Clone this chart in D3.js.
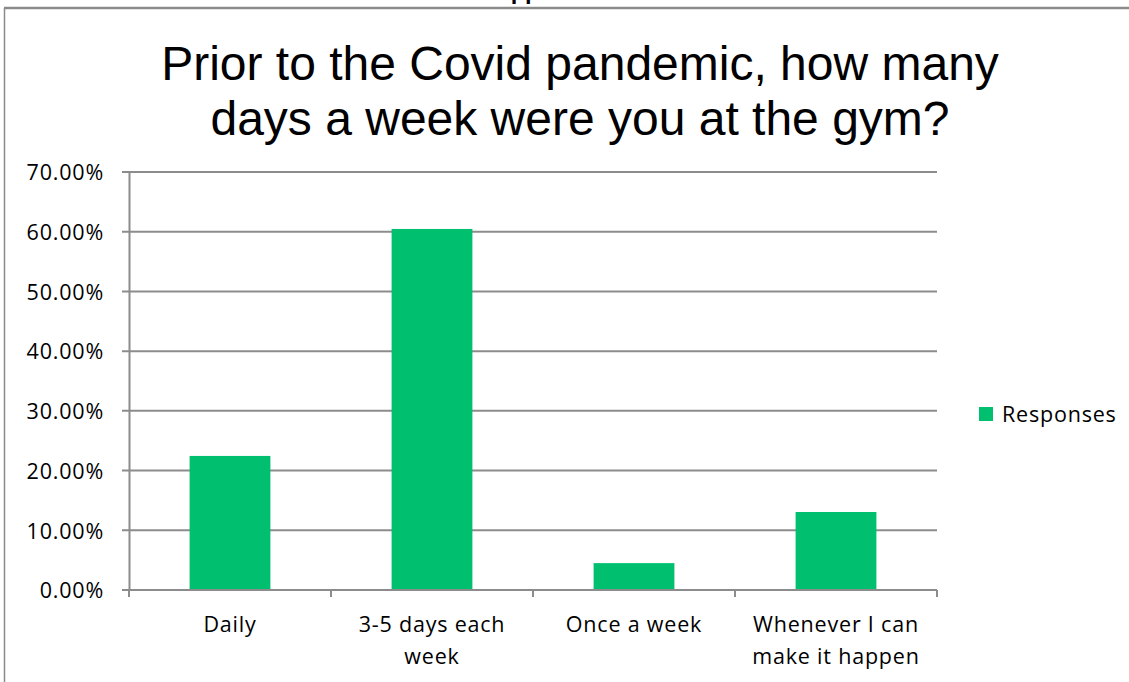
<!DOCTYPE html>
<html>
<head>
<meta charset="utf-8">
<script src="https://cdn.jsdelivr.net/npm/d3@7"></script>
<style>
  body { margin: 0; background: #fff; }
  svg { display: block; }
  .tick-label { font-family: "Open Sans", "Noto Sans", sans-serif; font-size: 21.5px; letter-spacing: 0.8px; fill: #000; }
  .chart-title { font-family: "Liberation Sans", Arial, sans-serif; font-size: 48px; fill: #000; }
</style>
</head>
<body>
<div id="chart"></div>
<script>
// chart data
var categories = ["Daily", "3-5 days each week", "Once a week", "Whenever I can make it happen"];
var categoryLines = [["Daily"], ["3-5 days each", "week"], ["Once a week"], ["Whenever I can", "make it happen"]];
var responses = [0.2245, 0.6046, 0.0450, 0.1306];
var yTicks = [0, 0.1, 0.2, 0.3, 0.4, 0.5, 0.6, 0.7];
var titleLines = ["Prior to the Covid pandemic, how many", "days a week were you at the gym?"];
var seriesName = "Responses";

var width = 1129,
    height = 682,
    margin = { left: 129, right: 192, top: 172, bottom: 92 };
var chartWidth = width - margin.left - margin.right;
var chartHeight = height - margin.top - margin.bottom;
var barColor = "#00BF6F",
    gridColor = "#8c8c8c";

var svg = d3.select("#chart").append("svg")
    .attr("width", width)
    .attr("height", height);

// outer frame (cut off at the top like the screenshot)
svg.append("line").attr("x1", 4).attr("x2", width).attr("y1", 8).attr("y2", 8)
    .attr("stroke", "#8a8a8a").attr("stroke-width", 2.5);
svg.append("line").attr("x1", 4.5).attr("x2", 4.5).attr("y1", 8).attr("y2", height)
    .attr("stroke", "#8a8a8a").attr("stroke-width", 1.5);

// bit of text peeking over the frame
svg.append("text")
    .attr("x", 522).attr("y", -1)
    .attr("text-anchor", "middle")
    .attr("class", "tick-label")
    .style("font-weight", "bold")
    .text("Skipped");

// title
svg.append("text")
    .attr("class", "chart-title")
    .attr("text-anchor", "middle")
    .selectAll("tspan").data(titleLines).enter()
    .append("tspan")
    .attr("x", 580)
    .attr("y", function(d, i) { return 80 + i * 55; })
    .text(function(d) { return d; });

var xScale = d3.scaleBand()
    .domain(categories)
    .range([0, chartWidth])
    .paddingInner(0.6)
    .paddingOuter(0.3);

var yScale = d3.scaleLinear()
    .domain([0, 0.7])
    .range([chartHeight, 0]);

var chartG = svg.append("g")
    .attr("transform", "translate(" + margin.left + "," + margin.top + ")");

// gridlines
chartG.append("g").selectAll("line").data(yTicks).enter()
    .append("line")
    .attr("x1", -7).attr("x2", chartWidth)
    .attr("y1", function(d) { return yScale(d); })
    .attr("y2", function(d) { return yScale(d); })
    .attr("stroke", gridColor)
    .attr("stroke-width", 2);

// y axis
var yAxis = d3.axisLeft(yScale)
    .tickValues(yTicks)
    .tickFormat(d3.format(".2%"))
    .tickSize(0)
    .tickPadding(25);
var yAxisG = chartG.append("g").call(yAxis);
yAxisG.select(".domain").attr("stroke", gridColor).attr("stroke-width", 2);
yAxisG.selectAll("text").attr("class", "tick-label").attr("fill", "#000").attr("dy", "0.36em");

// bars
chartG.selectAll("rect.bar").data(responses).enter()
    .append("rect")
    .attr("class", "bar")
    .attr("x", function(d, i) { return xScale(categories[i]); })
    .attr("y", function(d) { return yScale(d); })
    .attr("width", xScale.bandwidth())
    .attr("height", function(d) { return chartHeight - yScale(d); })
    .attr("fill", barColor);

// x axis with ticks between categories
var boundaries = d3.range(categories.length + 1).map(function(i) { return i * chartWidth / categories.length; });
var xAxisG = chartG.append("g").attr("transform", "translate(0," + chartHeight + ")");
xAxisG.append("line").attr("x1", 0).attr("x2", chartWidth)
    .attr("stroke", gridColor).attr("stroke-width", 2);
xAxisG.selectAll("line.tick").data(boundaries).enter()
    .append("line")
    .attr("class", "tick")
    .attr("x1", function(d) { return d; }).attr("x2", function(d) { return d; })
    .attr("y1", 0).attr("y2", 7)
    .attr("stroke", gridColor).attr("stroke-width", 2);

xAxisG.selectAll("text.cat").data(categoryLines).enter()
    .append("text")
    .attr("class", "tick-label cat")
    .attr("text-anchor", "middle")
    .each(function(lines, i) {
        d3.select(this).selectAll("tspan").data(lines).enter()
            .append("tspan")
            .attr("x", xScale(categories[i]) + xScale.bandwidth() / 2)
            .attr("y", function(d, j) { return 42 + j * 32; })
            .text(function(d) { return d; });
    });

// legend
var legend = svg.append("g").attr("transform", "translate(979,407)");
legend.append("rect").attr("width", 14).attr("height", 14).attr("fill", barColor);
legend.append("text")
    .attr("class", "tick-label")
    .attr("x", 23).attr("y", 7).attr("dy", "0.36em")
    .text(seriesName);
</script>
</body>
</html>
